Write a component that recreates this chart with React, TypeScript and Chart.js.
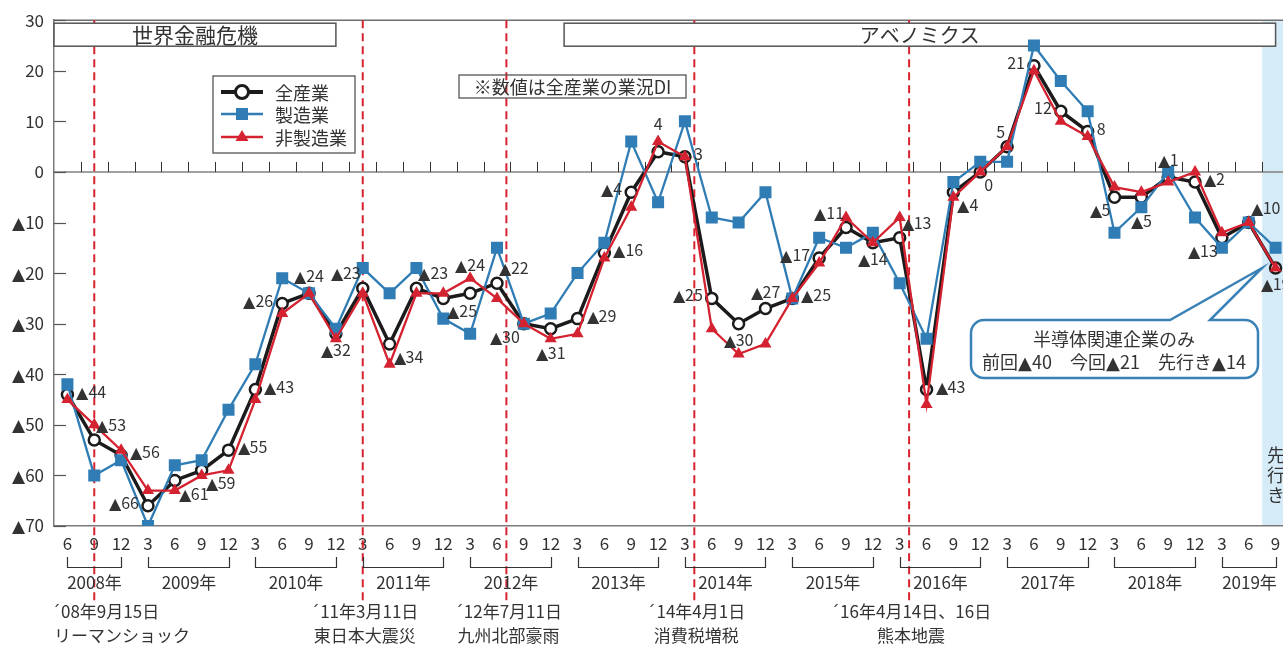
import React, { useEffect, useRef } from "react";
import { Chart, registerables } from "chart.js";

Chart.register(...registerables);

// "Tri" supplies only the ▲ and ´ glyphs (narrow, from DejaVu Sans); everything else falls back to Noto Sans CJK JP
const FONT = '"Tri", "Noto Sans CJK JP", "Noto Sans", sans-serif';
const TEXT = "#333333";

// x-axis: quarter months, 2008/6 .. 2019/9
const quarterLabels = [
  "6", "9", "12",
  "3", "6", "9", "12",
  "3", "6", "9", "12",
  "3", "6", "9", "12",
  "3", "6", "9", "12",
  "3", "6", "9", "12",
  "3", "6", "9", "12",
  "3", "6", "9", "12",
  "3", "6", "9", "12",
  "3", "6", "9", "12",
  "3", "6", "9", "12",
  "3", "6", "9",
];
const yearLabels = [
  "2008年", "2009年", "2010年", "2011年", "2012年", "2013年",
  "2014年", "2015年", "2016年", "2017年", "2018年", "2019年",
];

// 業況判断DI
const allIndustries = [
  -44, -53, -56, -66, -61, -59, -55, -43, -26, -24, -32, -23, -34, -23, -25, -24,
  -22, -30, -31, -29, -16, -4, 4, 3, -25, -30, -27, -25, -17, -11, -14, -13,
  -43, -4, 0, 5, 21, 12, 8, -5, -5, -1, -2, -13, -10, -19,
];
const manufacturing = [
  -42, -60, -57, -70, -58, -57, -47, -38, -21, -24, -31, -19, -24, -19, -29, -32,
  -15, -30, -28, -20, -14, 6, -6, 10, -9, -10, -4, -25, -13, -15, -12, -22,
  -33, -2, 2, 2, 25, 18, 12, -12, -7, 0, -9, -15, -10, -15,
];
const nonManufacturing = [
  -45, -50, -55, -63, -63, -60, -59, -45, -28, -24, -33, -24, -38, -24, -24, -21,
  -25, -30, -33, -32, -17, -7, 6, 3, -31, -36, -34, -25, -18, -9, -14, -9,
  -46, -5, 0, 5, 20, 10, 7, -3, -4, -2, 0, -12, -10, -19,
];
// where each 全産業 value label sits relative to its point
const labelPlacement = [
  "r", "tr", "r", "l", "br", "br", "r", "r", "l", "t", "b", "tl", "br", "tr", "br", "T",
  "tr", "bl", "B", "r", "r", "l", "T", "r", "l", "b", "t", "r", "l", "tl", "b", "tr",
  "r", "br", "br", "tl", "l", "l", "r", "bl", "B", "t", "r", "bl", "tr", "b",
];

const seriesNames = ["全産業", "製造業", "非製造業"];
const forecastIndex = 45;

// periods shown as boxes at the top
const periodLabels = ["世界金融危機", "アベノミクス"];
const periodFrom = [-0.5, 18.5];
const periodTo = [10, 45];

// events (vertical dashed lines)
const eventPositions = [1, 11, 16.35, 23.35, 31.35];
const eventDates = ["´08年9月15日", "´11年3月11日", "´12年7月11日", "´14年4月1日", "´16年4月14日、16日"];
const eventNames = ["リーマンショック", "東日本大震災", "九州北部豪雨", "消費税増税", "熊本地震"];

const noteText = "※数値は全産業の業況DI";
const calloutTitle = "半導体関連企業のみ";
const calloutBody = "前回▲40　今回▲21　先行き▲14";
const forecastText = ["先", "行", "き"];

const BLACK = "#1b1b1b";
const BLUE = "#2f7db4";
const RED = "#d42230";

const fmt = (v: number) => (v < 0 ? "▲" + Math.abs(v) : String(v));

function line(ctx: CanvasRenderingContext2D, x1: number, y1: number, x2: number, y2: number, color: string, w: number) {
  ctx.beginPath();
  ctx.moveTo(x1, y1);
  ctx.lineTo(x2, y2);
  ctx.strokeStyle = color;
  ctx.lineWidth = w;
  ctx.stroke();
}

const decorPlugin = {
  id: "decor",
  beforeDatasetsDraw(chart: any) {
    const { ctx, chartArea: a, scales } = chart;
    const x = scales.x;
    const y = scales.y;
    const step = x.getPixelForValue(1) - x.getPixelForValue(0);
    const px = (v: number) => x.getPixelForValue(0) + v * step;
    ctx.save();
    // forecast band
    const bx = px(forecastIndex - 0.5);
    ctx.fillStyle = "#d5ebf8";
    ctx.fillRect(bx, a.top + 1, a.right - bx + 20, a.bottom - a.top - 2);
    // top border
    line(ctx, a.left, a.top, a.right + 20, a.top, "#6e6e6e", 1.5);
    // zero line + its ticks
    const y0 = y.getPixelForValue(0);
    line(ctx, a.left, y0, a.right + 20, y0, "#808080", 1.5);
    for (let i = 0; i < quarterLabels.length - 1; i++) {
      const tx = Math.round(px(i + 0.5)) + 0.5;
      line(ctx, tx, y0 - 10, tx, y0, "#333", 1);
    }
    // inner y ticks
    for (let v = -70; v <= 30; v += 10) {
      const ty = Math.round(y.getPixelForValue(v)) + 0.5;
      line(ctx, a.left, ty, a.left + 12, ty, "#555", 1.2);
    }
    // event dashed lines
    ctx.setLineDash([8, 5]);
    eventPositions.forEach((p) => {
      const ex = px(p);
      line(ctx, ex, a.top, ex, 604, "#d6232f", 2);
    });
    ctx.setLineDash([]);
    // period boxes
    ctx.textAlign = "center";
    ctx.textBaseline = "middle";
    periodLabels.forEach((lab, i) => {
      const x1 = Math.max(px(periodFrom[i]), a.left);
      const x2 = px(periodTo[i]);
      ctx.fillStyle = "#fff";
      ctx.fillRect(x1, a.top + 3, x2 - x1, 23);
      ctx.strokeStyle = "#555";
      ctx.lineWidth = 1.5;
      ctx.strokeRect(x1, a.top + 3, x2 - x1, 23);
      ctx.fillStyle = TEXT;
      ctx.font = i === 0 ? `21px ${FONT}` : `20px ${FONT}`;
      ctx.fillText(lab, (x1 + x2) / 2, a.top + 15);
    });
    // note box
    ctx.strokeStyle = "#555";
    ctx.lineWidth = 1.3;
    ctx.strokeRect(459, 75, 227, 23);
    ctx.fillStyle = TEXT;
    ctx.font = `18px ${FONT}`;
    ctx.fillText(noteText, 572.5, 87);
    // legend
    ctx.fillStyle = "#fff";
    ctx.fillRect(213, 76, 142, 77);
    ctx.strokeStyle = "#555";
    ctx.lineWidth = 1.3;
    ctx.strokeRect(213, 76, 142, 77);
    const rows = [92, 114, 137];
    line(ctx, 221, rows[0], 263, rows[0], BLACK, 4);
    ctx.beginPath();
    ctx.arc(242, rows[0], 6.5, 0, Math.PI * 2);
    ctx.fillStyle = "#fff";
    ctx.fill();
    ctx.lineWidth = 3;
    ctx.strokeStyle = BLACK;
    ctx.stroke();
    line(ctx, 221, rows[1], 263, rows[1], BLUE, 2.3);
    ctx.fillStyle = BLUE;
    ctx.fillRect(236, rows[1] - 6, 12, 12);
    line(ctx, 221, rows[2], 263, rows[2], RED, 2.3);
    ctx.fillStyle = RED;
    ctx.beginPath();
    ctx.moveTo(242, rows[2] - 7);
    ctx.lineTo(248.5, rows[2] + 4);
    ctx.lineTo(235.5, rows[2] + 4);
    ctx.closePath();
    ctx.fill();
    ctx.fillStyle = TEXT;
    ctx.font = `18px ${FONT}`;
    ctx.textAlign = "left";
    seriesNames.forEach((n, i) => ctx.fillText(n, 275, rows[i] + 1));

    // year brackets
    ctx.font = `17px ${FONT}`;
    ctx.textAlign = "center";
    let start = 0;
    let yi = 0;
    for (let i = 0; i <= quarterLabels.length; i++) {
      const isEnd = i === quarterLabels.length || (quarterLabels[i] === "3" && i > 0);
      if (isEnd) {
        const x1 = Math.round(px(start)) + 0.5;
        const x2 = Math.round(px(i - 1)) + 0.5;
        ctx.beginPath();
        ctx.moveTo(x1, 557);
        ctx.lineTo(x1, 567.5);
        ctx.lineTo(x2, 567.5);
        ctx.lineTo(x2, 557);
        ctx.strokeStyle = "#333";
        ctx.lineWidth = 1.2;
        ctx.stroke();
        ctx.fillStyle = TEXT;
        ctx.fillText(yearLabels[yi], (x1 + x2) / 2, 583);
        yi++;
        start = i;
      }
    }
    // event labels
    eventPositions.forEach((p, i) => {
      const ex = px(p) + 2;
      const w = Math.max(ctx.measureText(eventDates[i]).width, ctx.measureText(eventNames[i]).width);
      if (ex - w / 2 < 52) {
        ctx.textAlign = "left";
        ctx.fillText(eventDates[i], 52, 612);
        ctx.fillText(eventNames[i], 54, 636);
        ctx.textAlign = "center";
      } else {
        ctx.fillText(eventDates[i], ex, 612);
        ctx.fillText(eventNames[i], ex, 636);
      }
    });
    ctx.restore();
  },
  afterDatasetsDraw(chart: any) {
    const { ctx, scales } = chart;
    const x = scales.x;
    const y = scales.y;
    ctx.save();
    ctx.fillStyle = TEXT;
    ctx.font = `16px ${FONT}`;
    ctx.textBaseline = "middle";
    allIndustries.forEach((v, i) => {
      const px = x.getPixelForValue(i);
      const py = y.getPixelForValue(v);
      const p = labelPlacement[i];
      let dx = 0;
      let dy = 0;
      let align: CanvasTextAlign = "center";
      if (p === "r") { dx = 9; dy = -3; align = "left"; }
      else if (p === "l") { dx = -9; dy = -3; align = "right"; }
      else if (p === "t") { dy = -17; }
      else if (p === "T") { dy = -28; }
      else if (p === "b") { dy = 16; }
      else if (p === "B") { dy = 24; }
      else if (p === "tr") { dx = 2; dy = -15; align = "left"; }
      else if (p === "tl") { dx = -2; dy = -15; align = "right"; }
      else if (p === "br") { dx = 4; dy = 13; align = "left"; }
      else if (p === "bl") { dx = -4; dy = 13; align = "right"; }
      ctx.textAlign = align;
      ctx.fillText(fmt(v), px + dx, py + dy);
    });
    // callout bubble
    const L = 971, T = 320, R = 1258, B = 378, r = 13;
    ctx.beginPath();
    ctx.moveTo(L + r, T);
    ctx.lineTo(1170, T);
    ctx.lineTo(1262, 268);
    ctx.lineTo(1210, T);
    ctx.lineTo(R - r, T);
    ctx.arcTo(R, T, R, T + r, r);
    ctx.lineTo(R, B - r);
    ctx.arcTo(R, B, R - r, B, r);
    ctx.lineTo(L + r, B);
    ctx.arcTo(L, B, L, B - r, r);
    ctx.lineTo(L, T + r);
    ctx.arcTo(L, T, L + r, T, r);
    ctx.closePath();
    ctx.fillStyle = "#fff";
    ctx.fill();
    ctx.strokeStyle = "#3a82b6";
    ctx.lineWidth = 2.5;
    ctx.stroke();
    ctx.fillStyle = TEXT;
    ctx.font = `18px ${FONT}`;
    ctx.textAlign = "center";
    ctx.fillText(calloutTitle, 1114, 339);
    ctx.fillText(calloutBody, 1114, 362);
    forecastText.forEach((c, i) => ctx.fillText(c, 1276, 455 + i * 20));
    ctx.restore();
  },
};

function buildChart(canvas: HTMLCanvasElement) {
  Chart.defaults.font.family = FONT;
  return new Chart(canvas, {
    type: "line",
    data: {
      labels: quarterLabels,
      datasets: [
        {
          label: seriesNames[0],
          data: allIndustries,
          borderColor: BLACK,
          borderWidth: 3.5,
          pointStyle: "circle",
          pointRadius: 5.5,
          pointBorderWidth: 2.5,
          pointBackgroundColor: "#fff",
          pointBorderColor: BLACK,
          tension: 0,
          order: 2,
        },
        {
          label: seriesNames[1],
          data: manufacturing,
          borderColor: BLUE,
          borderWidth: 2.3,
          pointStyle: "rect",
          pointRadius: 8.5,
          pointBorderWidth: 0,
          pointBackgroundColor: BLUE,
          pointBorderColor: BLUE,
          tension: 0,
          order: 1,
        },
        {
          label: seriesNames[2],
          data: nonManufacturing,
          borderColor: RED,
          borderWidth: 2.3,
          pointStyle: "triangle",
          pointRadius: 7,
          pointBorderWidth: 0,
          pointBackgroundColor: RED,
          pointBorderColor: RED,
          tension: 0,
          order: 0,
        },
      ],
    },
    options: {
      responsive: false,
      animation: false,
      devicePixelRatio: 1,
      layout: { padding: { left: 0, top: 17, right: 11, bottom: 0 } },
      plugins: { legend: { display: false }, tooltip: { enabled: false } },
      scales: {
        x: {
          type: "category",
          offset: true,
          grid: { display: false, drawTicks: false },
          border: { display: true, color: "#7a7a7a", width: 1.5 },
          ticks: { color: TEXT, font: { size: 17 }, padding: 7, maxRotation: 0, autoSkip: false },
          afterFit: (s: any) => { s.height = 122; },
        },
        y: {
          min: -70,
          max: 30,
          grid: { display: false, drawTicks: false },
          border: { display: true, color: "#7a7a7a", width: 1.5 },
          ticks: {
            stepSize: 10,
            color: TEXT,
            font: { size: 17 },
            padding: 10,
            callback: (v: any) => fmt(Number(v)),
          },
          afterFit: (s: any) => { s.width = 54; },
        },
      },
    },
    plugins: [decorPlugin],
  } as any);
}

export default function App() {
  const ref = useRef<HTMLCanvasElement | null>(null);
  useEffect(() => {
    let chart: Chart | null = null;
    let cancelled = false;
    const make = () => {
      if (cancelled || !ref.current || chart) return;
      chart = buildChart(ref.current);
    };
    try {
      const face = new FontFace("Tri", 'local("DejaVu Sans")', { unicodeRange: "U+25B2, U+00B4" });
      (document as any).fonts.add(face);
      face.load().then(make, make);
      setTimeout(make, 1500);
    } catch (e) {
      make();
    }
    return () => {
      cancelled = true;
      if (chart) chart.destroy();
    };
  }, []);
  return (
    <div style={{ position: "fixed", left: 0, top: 0, width: 1283, height: 648, overflow: "hidden", background: "#fff" }}>
      <canvas ref={ref} width={1300} height={648} style={{ width: 1300, height: 648, display: "block" }} />
    </div>
  );
}
